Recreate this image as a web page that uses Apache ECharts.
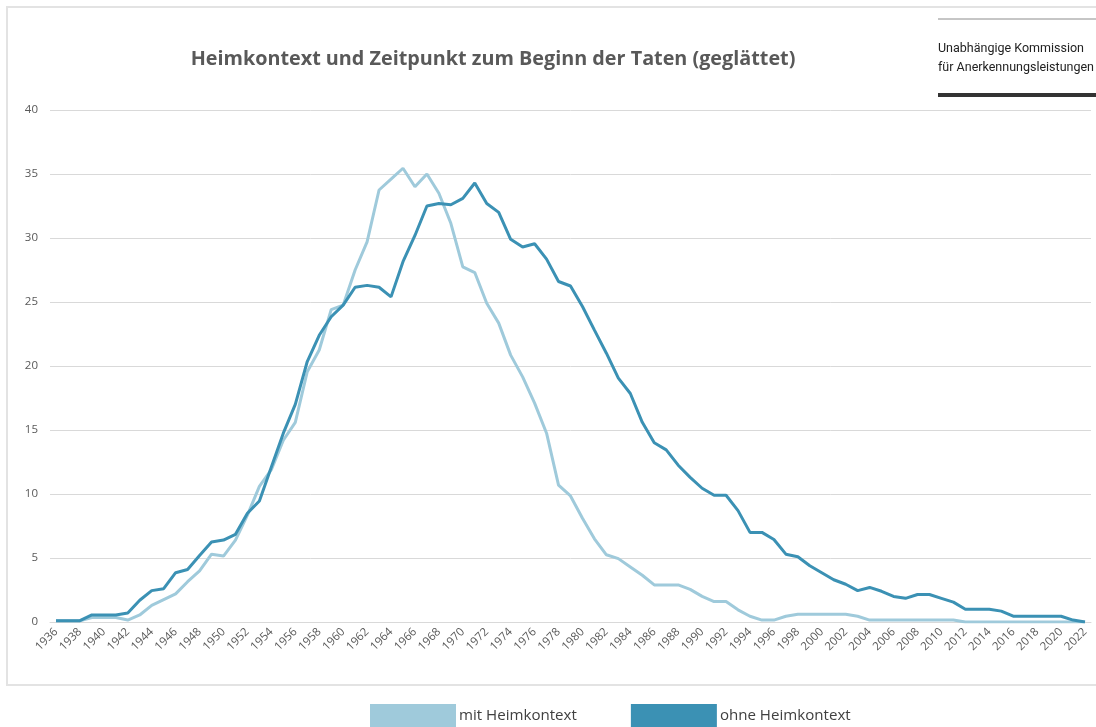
<!DOCTYPE html>
<html>
<head>
<meta charset="utf-8">
<script src="https://cdn.jsdelivr.net/npm/echarts@6/dist/echarts.min.js"></script>
<style>
  html, body { margin: 0; padding: 0; background: #fff; }
  #chart { width: 1096px; height: 727px; }
</style>
</head>
<body>
<div id="chart"></div>
<script>
// Jahre 1936 - 2022
var years = [];
for (var y = 1936; y <= 2022; y++) years.push(String(y));

// mit Heimkontext (hell)
var mitHeim = [
  0.1, 0.1, 0.1, 0.35, 0.35, 0.35, 0.15, 0.55, 1.3, 1.75,
  2.2, 3.15, 4.0, 5.3, 5.15, 6.4, 8.35, 10.6, 11.9, 14.2,
  15.6, 19.55, 21.25, 24.4, 24.75, 27.5, 29.7, 33.75, 34.6, 35.45,
  34.0, 35.0, 33.5, 31.15, 27.75, 27.3, 24.9, 23.35, 20.85, 19.15,
  17.1, 14.75, 10.7, 9.85, 8.1, 6.5, 5.25, 4.95, 4.3, 3.65,
  2.9, 2.9, 2.9, 2.55, 2.0, 1.6, 1.6, 0.95, 0.45, 0.15,
  0.15, 0.45, 0.6, 0.6, 0.6, 0.6, 0.6, 0.45, 0.15, 0.15,
  0.15, 0.15, 0.15, 0.15, 0.15, 0.15, 0, 0, 0, 0,
  0, 0, 0, 0, 0, 0, 0
];

// ohne Heimkontext (dunkel)
var ohneHeim = [
  0.1, 0.1, 0.1, 0.55, 0.55, 0.55, 0.7, 1.7, 2.45, 2.6,
  3.85, 4.1, 5.2, 6.25, 6.4, 6.85, 8.5, 9.45, 12.1, 14.75,
  17.0, 20.35, 22.4, 23.85, 24.75, 26.15, 26.3, 26.15, 25.4, 28.15,
  30.2, 32.5, 32.7, 32.6, 33.1, 34.3, 32.7, 32.0, 29.9, 29.3,
  29.55, 28.35, 26.6, 26.25, 24.65, 22.8, 21.0, 19.05, 17.85, 15.6,
  14.0, 13.45, 12.25, 11.3, 10.45, 9.9, 9.9, 8.7, 7.0, 7.0,
  6.45, 5.3, 5.1, 4.4, 3.85, 3.3, 2.95, 2.45, 2.7, 2.4,
  2.0, 1.85, 2.15, 2.15, 1.85, 1.55, 1.0, 1.0, 1.0, 0.85,
  0.45, 0.45, 0.45, 0.45, 0.45, 0.15, 0
];

var lightColor = '#9fcadb';
var darkColor = '#3b91b4';
var textColor = '#595959';

var chart = echarts.init(document.getElementById('chart'));
chart.setOption({
  animation: false,
  backgroundColor: '#fff',
  title: {
    text: 'Heimkontext und Zeitpunkt zum Beginn der Taten (geglättet)',
    left: 488,
    top: 44,
    textAlign: 'center',
    textStyle: {
      fontFamily: 'Open Sans',
      fontWeight: 'bold',
      fontSize: 19.8,
      color: textColor
    }
  },
  legend: {
    left: 370,
    top: 704,
    padding: 0,
    icon: 'rect',
    itemWidth: 86,
    itemHeight: 24,
    itemGap: 54,
    textStyle: {
      fontFamily: 'Open Sans',
      fontSize: 15.1,
      color: '#404040',
      padding: [0, 0, 0, -2]
    },
    data: ['mit Heimkontext', 'ohne Heimkontext']
  },
  grid: {
    left: 50,
    right: 5,
    top: 110,
    bottom: 105
  },
  xAxis: {
    type: 'category',
    data: years,
    boundaryGap: true,
    axisLine: { lineStyle: { color: '#d9d9d9', width: 1 } },
    axisTick: { show: false },
    axisLabel: {
      interval: 1,
      rotate: 45,
      fontFamily: 'Open Sans',
      fontSize: 11.5,
      color: textColor,
      margin: 8
    }
  },
  yAxis: {
    type: 'value',
    min: 0,
    max: 40,
    interval: 5,
    axisLine: { show: false },
    axisTick: { show: false },
    splitLine: { lineStyle: { color: '#d9d9d9', width: 1 } },
    axisLabel: {
      fontFamily: 'Open Sans',
      fontSize: 11.5,
      color: textColor,
      margin: 12
    }
  },
  series: [
    {
      name: 'mit Heimkontext',
      type: 'line',
      data: mitHeim,
      symbol: 'none',
      itemStyle: { color: lightColor },
      lineStyle: { color: lightColor, width: 3 }
    },
    {
      name: 'ohne Heimkontext',
      type: 'line',
      data: ohneHeim,
      symbol: 'none',
      itemStyle: { color: darkColor },
      lineStyle: { color: darkColor, width: 3 }
    }
  ],
  graphic: [
    {
      type: 'rect',
      silent: true,
      z: -1,
      shape: { x: 7, y: 7, width: 1100, height: 678 },
      style: { fill: null, stroke: '#e3e3e3', lineWidth: 2 }
    },
    {
      type: 'line',
      silent: true,
      shape: { x1: 938, y1: 19, x2: 1096, y2: 19 },
      style: { stroke: '#8c8c8c', lineWidth: 1 }
    },
    {
      type: 'text',
      silent: true,
      style: {
        x: 938,
        y: 39,
        text: 'Unabhängige Kommission\nfür Anerkennungsleistungen',
        font: '12.5px Roboto',
        lineHeight: 19,
        fill: '#222'
      }
    },
    {
      type: 'line',
      silent: true,
      shape: { x1: 938, y1: 95, x2: 1096, y2: 95 },
      style: { stroke: '#333', lineWidth: 4 }
    }
  ]
});
</script>
</body>
</html>
